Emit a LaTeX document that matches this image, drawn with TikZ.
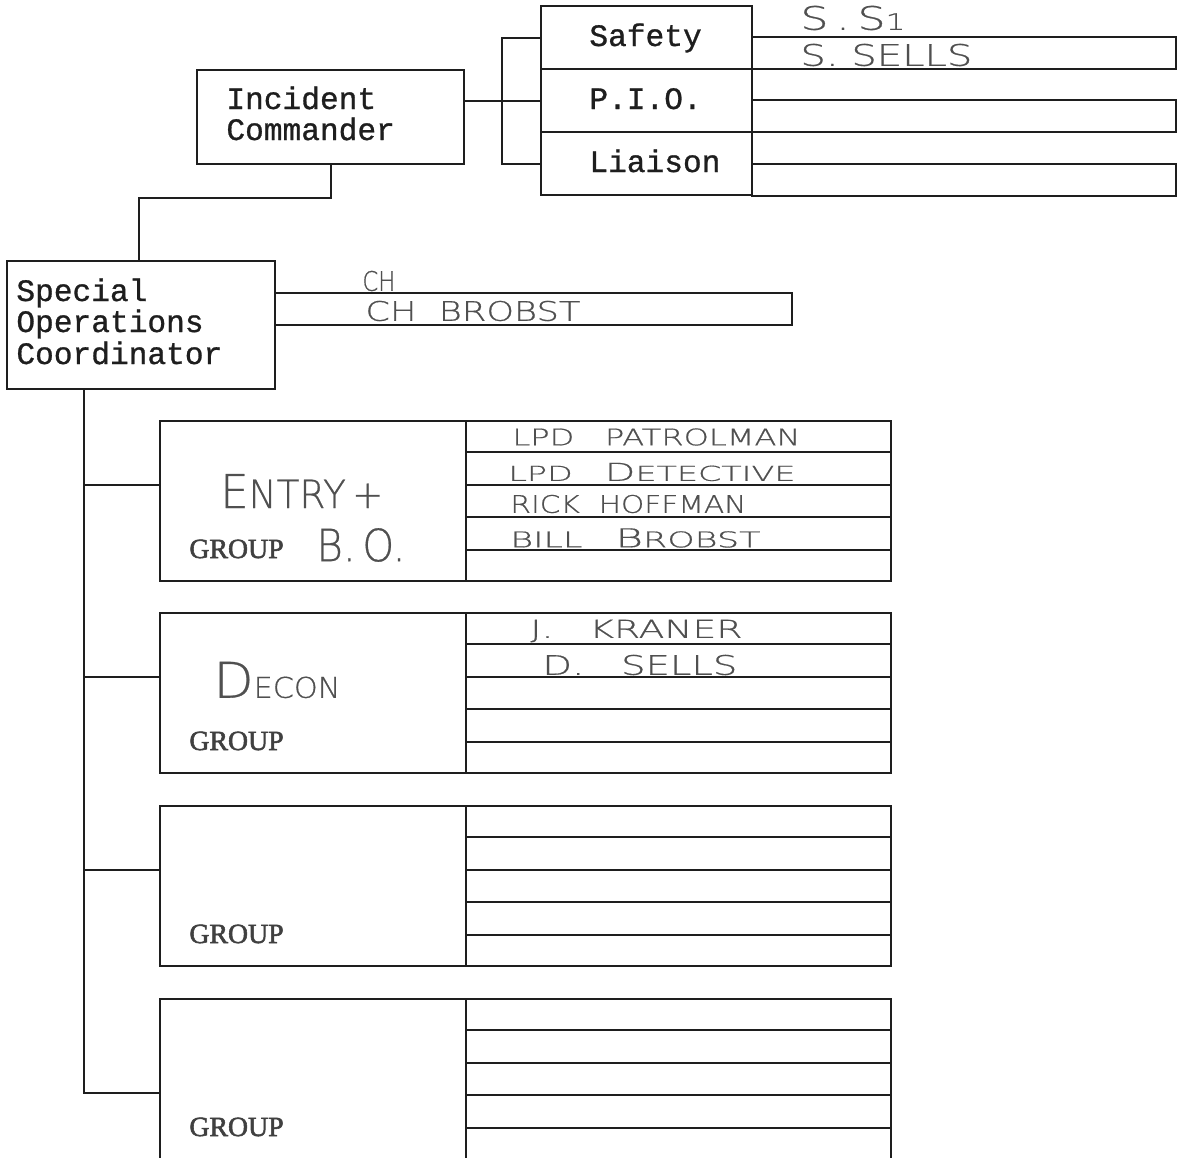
\documentclass[tikz,border=0pt]{standalone}
\usepackage{fontspec}
\usepackage{graphicx}
\usetikzlibrary{calc}
\newfontfamily\courfont[FakeBold=0.9]{Liberation Mono}
\newfontfamily\grpfont[FakeBold=2]{Liberation Serif}
\newfontfamily\handfont[FakeBold=0.6]{DejaVu Sans ExtraLight}
\definecolor{ink}{HTML}{1E1E1E}
\definecolor{pencil}{HTML}{505050}
\newcommand\hw[3]{\resizebox{#1}{#2}{\handfont #3}}
\begin{document}
\begin{tikzpicture}[x=0.5pt,y=-0.5pt,
  box/.style={draw=ink,line width=1pt,inner sep=0pt,rectangle},
  typed/.style={font=\courfont\fontsize{15.6}{15.5}\selectfont,text=ink,inner sep=0pt,anchor=base west},
  grp/.style={font=\grpfont\fontsize{13.9}{14}\selectfont,text=ink!85,inner sep=0pt,anchor=base west},
  hand/.style={text=pencil,inner sep=0pt,anchor=west},
  link/.style={draw=ink,line width=1pt},
  rowline/.style={draw=ink,line width=1pt}]
\useasboundingbox[fill=white] (0,0) rectangle (1180,1158);

% top boxes
\node[box,minimum width=133.5pt,minimum height=47pt] (ic) at (330.5,117) {};
\node[box,minimum width=105.5pt,minimum height=31.5pt] (safety) at (646.5,37.5) {};
\node[box,minimum width=105.5pt,minimum height=31.5pt] (pio) at (646.5,100.5) {};
\node[box,minimum width=105.5pt,minimum height=31.5pt] (liaison) at (646.5,163.5) {};
\node[box,minimum width=212pt,minimum height=16pt] (safetybar) at (964,53) {};
\node[box,minimum width=212pt,minimum height=16pt] (piobar) at (964,116) {};
\node[box,minimum width=212pt,minimum height=16pt] (liaisonbar) at (964,180) {};
\node[box,minimum width=134pt,minimum height=64pt] (soc) at (141,325) {};
\node[box,minimum width=258.5pt,minimum height=16pt] (chbar) at (533.5,309) {};

% groups
\foreach \i/\T in {1/421,2/613,3/806,4/999}{
  \node[box,minimum width=153pt,minimum height=80pt] (g\i l) at (313,\T+80) {};
  \node[box,minimum width=212.5pt,minimum height=80pt] (g\i r) at (678.5,\T+80) {};
  \foreach \k in {1,2,3,4}{
    \draw[rowline] ($(g\i r.north west)!\k/5!(g\i r.south west)$) -- ($(g\i r.north east)!\k/5!(g\i r.south east)$);
  }
  \node[grp] (grp\i) at (189,\T+137) {GROUP};
}

% connectors
\coordinate (sv) at (139,0);
\draw[link] (ic.south) -- ++(0,33) -| (sv |- soc.north);
\draw[link] (ic.east |- pio.west) -- (pio.west);
\coordinate (br) at (502,0);
\draw[link] (safety.west) -- (br |- safety.west) -- (br |- liaison.west) -- (liaison.west);
\coordinate (tr) at (84,0);
\coordinate (c1) at ($(g1l.north west)+(0,65)$);
\coordinate (c2) at ($(g2l.north west)+(0,65)$);
\coordinate (c3) at ($(g3l.north west)+(0,65)$);
\coordinate (c4) at ($(g4l.north west)+(0,95)$);
\draw[link] (soc.south -| tr) |- (c4);
\foreach \i in {1,2,3}{\draw[link] (tr |- c\i) -- (c\i);}

% typed text
\node[typed] (tic1) at (226,109) {Incident};
\node[typed] (tic2) at (226,140) {Commander};
\node[typed] (tsaf) at (589,46) {Safety};
\node[typed] (tpio) at (589,109) {P.I.O.};
\node[typed] (tlia) at (589,172) {Liaison};
\node[typed] (tsoc1) at (16,301) {Special};
\node[typed] (tsoc2) at (16,332) {Operations};
\node[typed] (tsoc3) at (16,364) {Coordinator};

% handwriting
\node[hand] (h1) at (800,18) {\hw{52.5pt}{12pt}{S\,.\,S{\scriptsize 1}}};
\node[hand] (h2) at (800,55) {\hw{86pt}{11pt}{S.~SELLS}};
\node[hand] (h3) at (362,281) {\hw{16.5pt}{10pt}{CH}};
\node[hand] (h4) at (365,311) {\hw{107.5pt}{10pt}{CH~~BROBST}};
\node[hand] (h5) at (220,491) {\hw{81.5pt}{17pt}{{\large E}NTRY\,+}};
\node[hand] (h6) at (316,545) {\hw{44.5pt}{16.5pt}{B.\,O.}};
\node[hand] (h7) at (512,437) {\hw{144pt}{8.5pt}{LPD~~~PATROLMAN}};
\node[hand] (h8) at (508,472) {\hw{143.5pt}{9pt}{LPD~~~{\large D}ETECTIVE}};
\node[hand] (h9) at (510,504) {\hw{118pt}{9pt}{RICK~~HOFFMAN}};
\node[hand] (h10) at (510,538) {\hw{125pt}{9.5pt}{BILL~~~{\large B}ROBST}};
\node[hand] (h11) at (530,631) {\hw{106pt}{9pt}{J.~~~KRANER}};
\node[hand] (h12) at (542,665) {\hw{97.5pt}{10pt}{D.~~~SELLS}};
\node[hand] (h13) at (213,680) {\hw{63.5pt}{18pt}{{\LARGE D}ECON}};
\end{tikzpicture}
\end{document}
